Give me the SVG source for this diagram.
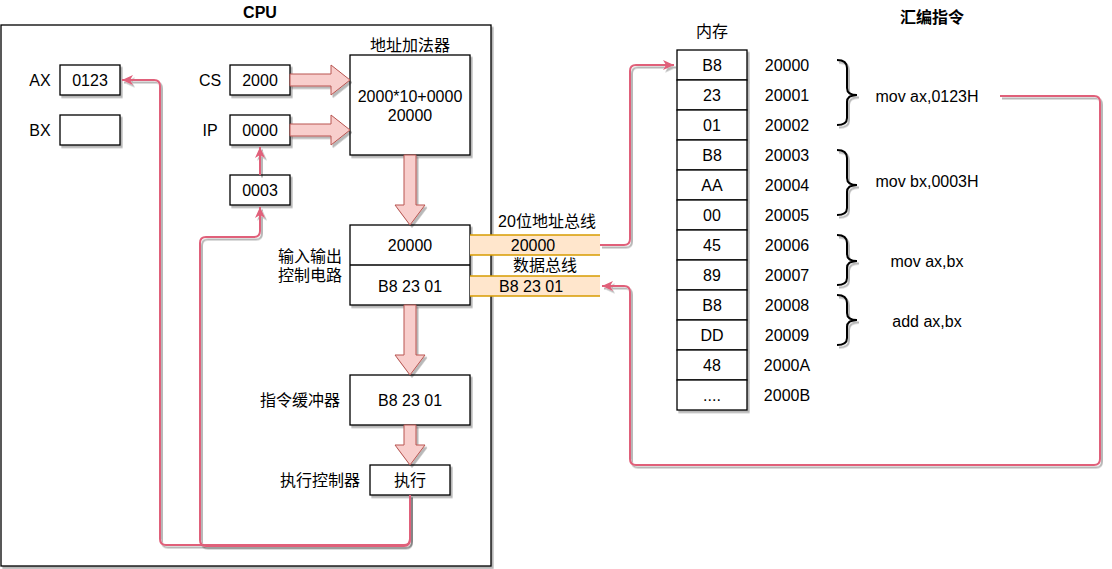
<svg xmlns="http://www.w3.org/2000/svg" width="1112" height="569" viewBox="0 0 1112 569">
  <style>
    text { font-family: "Liberation Sans", "Noto Sans CJK SC", sans-serif; font-size: 16px; fill: #000; dominant-baseline: central; }
    .c { text-anchor: middle; }
    .b { font-weight: bold; }
    .box { fill: #fff; stroke: #000; stroke-width: 1.3; }
    .sh { filter: url(#shadow); }
    .flex { fill: #f8cecc; stroke: #b85450; stroke-width: 1; }
    .link { fill: none; stroke: #e0607a; stroke-width: 2; }
    .brace { fill: none; stroke: #000; stroke-width: 2; }
    .bus { fill: #ffe6cc; stroke: none; }
    .busline { stroke: #d79b00; stroke-width: 1.3; }
  </style>
  <defs>
    <!-- user-space region so thin straight connectors keep their shadow -->
    <filter id="shadow" filterUnits="userSpaceOnUse" x="0" y="0" width="1112" height="569">
      <feDropShadow dx="2" dy="2.5" stdDeviation="0.7" flood-color="#000" flood-opacity="0.28"/>
    </filter>
    <marker id="arrow" markerUnits="userSpaceOnUse" markerWidth="14" markerHeight="12" refX="11" refY="5" orient="auto">
      <path d="M0,0 L11,5 L0,10 L3,5 Z" fill="#e0607a"/>
    </marker>
  </defs>

  <rect width="1112" height="569" fill="#fff"/>

  <!-- CPU frame -->
  <g id="cpu">
    <rect class="box sh" x="1" y="25" width="490" height="541"/>
    <text class="c b" x="260" y="12">CPU</text>
  </g>

  <!-- registers -->
  <g id="ax">
    <rect class="box sh" x="60" y="65" width="60" height="30"/>
    <text class="c" x="90" y="80">0123</text>
    <text class="c" x="40" y="80">AX</text>
  </g>
  <g id="bx">
    <rect class="box sh" x="60" y="115" width="60" height="30"/>
    <text class="c" x="40" y="130">BX</text>
  </g>
  <g id="cs">
    <rect class="box sh" x="230" y="65" width="60" height="30"/>
    <text class="c" x="260" y="80">2000</text>
    <text class="c" x="210" y="80">CS</text>
  </g>
  <g id="ip">
    <rect class="box sh" x="230" y="115" width="60" height="30"/>
    <text class="c" x="260" y="130">0000</text>
    <text class="c" x="210" y="130">IP</text>
  </g>
  <g id="inc">
    <rect class="box sh" x="230" y="175" width="60" height="30"/>
    <text class="c" x="260" y="190">0003</text>
  </g>

  <!-- address adder -->
  <g id="adder">
    <rect class="box sh" x="350" y="55" width="120" height="100"/>
    <text class="c" x="410" y="45">地址加法器</text>
    <text class="c" x="410" y="96">2000*10+0000</text>
    <text class="c" x="410" y="115">20000</text>
  </g>

  <!-- I/O control -->
  <g id="io">
    <rect class="box sh" x="350" y="225" width="120" height="80"/>
    <line x1="350" y1="265" x2="470" y2="265" stroke="#000" stroke-width="1.3"/>
    <text class="c" x="410" y="245">20000</text>
    <text class="c" x="410" y="286">B8 23 01</text>
    <text class="c" x="310" y="256">输入输出</text>
    <text class="c" x="310" y="275">控制电路</text>
  </g>

  <!-- instruction buffer -->
  <g id="buffer">
    <rect class="box sh" x="350" y="375" width="120" height="50"/>
    <text class="c" x="410" y="400">B8 23 01</text>
    <text class="c" x="300" y="400">指令缓冲器</text>
  </g>

  <!-- execution unit -->
  <g id="exec">
    <rect class="box sh" x="370" y="465" width="80" height="30"/>
    <text class="c" x="410" y="480">执行</text>
    <text class="c" x="320" y="480">执行控制器</text>
  </g>

  <!-- buses -->
  <g id="addr-bus">
    <rect class="bus" x="470" y="235" width="130" height="20"/>
    <line class="busline" x1="470" y1="235" x2="600" y2="235"/>
    <line class="busline" x1="470" y1="255" x2="600" y2="255"/>
    <text class="c" x="533" y="245">20000</text>
    <text class="c" x="547" y="221">20位地址总线</text>
  </g>
  <g id="data-bus">
    <rect class="bus" x="470" y="276" width="130" height="20"/>
    <line class="busline" x1="470" y1="276" x2="600" y2="276"/>
    <line class="busline" x1="470" y1="296" x2="600" y2="296"/>
    <text class="c" x="531" y="286">B8 23 01</text>
    <text class="c" x="545" y="265">数据总线</text>
  </g>

  <!-- memory -->
  <g id="memory">
    <text class="c" x="712" y="31">内存</text>
    <g class="sh">
      <rect class="box" x="677" y="50" width="70" height="30"/>
      <rect class="box" x="677" y="80" width="70" height="30"/>
      <rect class="box" x="677" y="110" width="70" height="30"/>
      <rect class="box" x="677" y="140" width="70" height="30"/>
      <rect class="box" x="677" y="170" width="70" height="30"/>
      <rect class="box" x="677" y="200" width="70" height="30"/>
      <rect class="box" x="677" y="230" width="70" height="30"/>
      <rect class="box" x="677" y="260" width="70" height="30"/>
      <rect class="box" x="677" y="290" width="70" height="30"/>
      <rect class="box" x="677" y="320" width="70" height="30"/>
      <rect class="box" x="677" y="350" width="70" height="30"/>
      <rect class="box" x="677" y="380" width="70" height="30"/>
    </g>
    <text class="c" x="712" y="65">B8</text>
    <text class="c" x="712" y="95">23</text>
    <text class="c" x="712" y="125">01</text>
    <text class="c" x="712" y="155">B8</text>
    <text class="c" x="712" y="185">AA</text>
    <text class="c" x="712" y="215">00</text>
    <text class="c" x="712" y="245">45</text>
    <text class="c" x="712" y="275">89</text>
    <text class="c" x="712" y="305">B8</text>
    <text class="c" x="712" y="335">DD</text>
    <text class="c" x="712" y="365">48</text>
    <text class="c" x="712" y="395">....</text>
  </g>
  <g id="addresses">
    <text class="c" x="787" y="65">20000</text>
    <text class="c" x="787" y="95">20001</text>
    <text class="c" x="787" y="125">20002</text>
    <text class="c" x="787" y="155">20003</text>
    <text class="c" x="787" y="185">20004</text>
    <text class="c" x="787" y="215">20005</text>
    <text class="c" x="787" y="245">20006</text>
    <text class="c" x="787" y="275">20007</text>
    <text class="c" x="787" y="305">20008</text>
    <text class="c" x="787" y="335">20009</text>
    <text class="c" x="787" y="365">2000A</text>
    <text class="c" x="787" y="395">2000B</text>
  </g>

  <!-- assembly listing -->
  <g id="asm">
    <text class="c b" x="932" y="17">汇编指令</text>
    <path class="brace sh" d="M837,60 Q847,60 847,68 L847,88 Q847,95 857,95 Q847,95 847,102 L847,118 Q847,125 837,125"/>
    <path class="brace sh" d="M837,150 Q847,150 847,158 L847,178 Q847,185 857,185 Q847,185 847,192 L847,208 Q847,215 837,215"/>
    <path class="brace sh" d="M837,235 Q847,235 847,243 L847,254 Q847,261 857,261 Q847,261 847,268 L847,278 Q847,285 837,285"/>
    <path class="brace sh" d="M837,295 Q847,295 847,303 L847,313 Q847,320 857,320 Q847,320 847,327 L847,338 Q847,345 837,345"/>
    <text class="c" x="927" y="96">mov ax,0123H</text>
    <text class="c" x="927" y="181">mov bx,0003H</text>
    <text class="c" x="927" y="261">mov ax,bx</text>
    <text class="c" x="927" y="321">add ax,bx</text>
  </g>

  <!-- connectors -->
  <g id="connectors">
    <polygon class="flex sh" points="290,74 331,74 331,65 350,80 331,95 331,86 290,86"/>
    <polygon class="flex sh" points="290,124 331,124 331,115 350,130 331,145 331,136 290,136"/>
    <polygon class="flex sh" points="404,155 416,155 416,205 425,205 410,225 395,205 404,205"/>
    <polygon class="flex sh" points="404,305 416,305 416,355 425,355 410,375 395,355 404,355"/>
    <polygon class="flex sh" points="404,425 416,425 416,445 425,445 410,465 395,445 404,445"/>

    <path class="link sh" d="M410,495 L410,539 Q410,545 404,545 L166,545 Q160,545 160,539 L160,86 Q160,80 154,80 L122,80" marker-end="url(#arrow)"/>
    <path class="link sh" d="M410,495 L410,539 Q410,546 404,546 L206,546 Q200,546 200,540 L200,243 Q200,237 206,237 L254,237 Q260,237 260,231 L260,207" marker-end="url(#arrow)"/>
    <path class="link sh" d="M260,175 L260,147" marker-end="url(#arrow)"/>
    <path class="link sh" d="M600,245 L624,245 Q630,245 630,239 L630,71 Q630,65 636,65 L674,65" marker-end="url(#arrow)"/>
    <path class="link sh" d="M1000,96 L1094,96 Q1100,96 1100,102 L1100,459 Q1100,465 1094,465 L636,465 Q630,465 630,459 L630,292 Q630,286 624,286 L602,286" marker-end="url(#arrow)"/>
  </g>
</svg>
